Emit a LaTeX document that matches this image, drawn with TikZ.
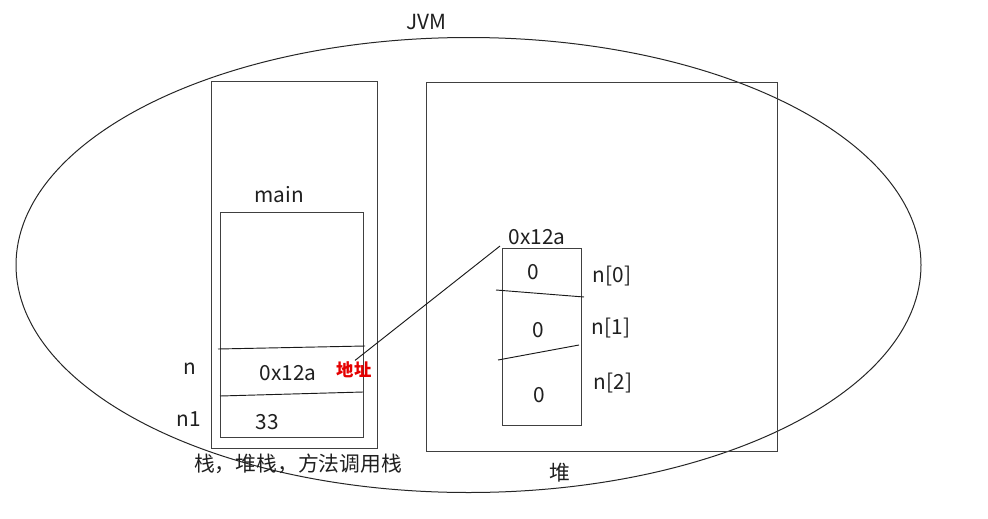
\documentclass[tikz,border=0pt]{standalone}
\usepackage{fontspec}
\setmainfont{Noto Sans CJK SC}
\begin{document}
\begin{tikzpicture}[x=0.75pt,y=-0.75pt,line width=0.75pt,
  box/.style={draw=black!75},
  divider/.style={draw=black!90,line width=0.7pt},
  lbl/.style={font=\fontsize{15.6}{18}\selectfont,text=black!88,inner sep=0pt},
  addrlbl/.style={font=\fontsize{13}{16}\selectfont\bfseries,text=red!90!black,inner sep=0pt},
]
\useasboundingbox (0,0) rectangle (988,518);
% JVM ellipse
\draw[black!85] (468.5,265) ellipse [x radius=452.5, y radius=227.5];
\node[lbl] (jvm) at (426,22) {JVM};
% stack
\draw[box] (211,81) rectangle (377,448);
\draw[box] (220,212) rectangle (363,437);
\node[lbl] (main) at (279,195) {main};
\draw[divider] (218,349) -- (365,346);
\draw[divider] (220,396) -- (363,392);
\node[lbl] (n) at (190,369) {n};
\node[lbl] (val) at (288,373) {0x12a};
\node[addrlbl] (addr) at (354,370) {地址};
\node[lbl] (n1) at (189,419) {n1};
\node[lbl] (v33) at (267,422) {33};
\node[lbl] (stack) at (298,464) {栈，堆栈，方法调用栈};
% heap
\draw[box] (426,82) rectangle (777,451);
\node[lbl] (heap) at (560,473) {堆};
\draw[box] (502,248) rectangle (581,425);
\coordinate (arrNW) at (500,246);
\node[lbl] (alabel) at (537,237) {0x12a};
\draw[divider] (496,290) -- (584,297);
\draw[divider] (498,360) -- (579,345);
\node[lbl] (z0) at (533,272) {0};
\node[lbl] (z1) at (538,330) {0};
\node[lbl] (z2) at (539,395) {0};
\node[lbl] (e0) at (612,276) {n[0]};
\node[lbl] (e1) at (611,328) {n[1]};
\node[lbl] (e2) at (613,383) {n[2]};
% reference
\draw[black!90,line width=0.7pt] (addr.north) ++(1,-1) -- (arrNW);
\end{tikzpicture}
\end{document}
